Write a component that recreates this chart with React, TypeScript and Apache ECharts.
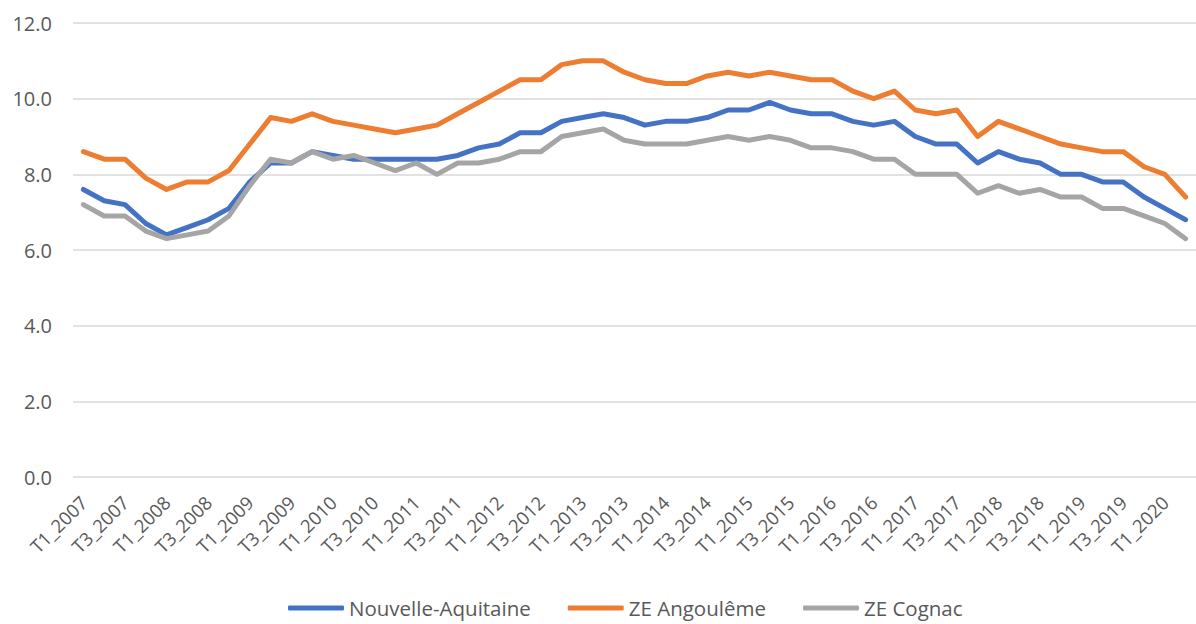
import React, { useEffect, useRef } from "react";
import * as echarts from "echarts";

const quarters: string[] = [];
for (let y = 2007; y <= 2020; y++) {
  for (let q = 1; q <= 4; q++) {
    if (y === 2020 && q > 2) break;
    quarters.push(`T${q}_${y}`);
  }
}

const nouvelleAquitaine = [
  7.6, 7.3, 7.2, 6.7, 6.4, 6.6, 6.8, 7.1, 7.8, 8.3, 8.3, 8.6, 8.5, 8.4, 8.4, 8.4,
  8.4, 8.4, 8.5, 8.7, 8.8, 9.1, 9.1, 9.4, 9.5, 9.6, 9.5, 9.3, 9.4, 9.4, 9.5, 9.7,
  9.7, 9.9, 9.7, 9.6, 9.6, 9.4, 9.3, 9.4, 9.0, 8.8, 8.8, 8.3, 8.6, 8.4, 8.3, 8.0,
  8.0, 7.8, 7.8, 7.4, 7.1, 6.8,
];
const zeAngouleme = [
  8.6, 8.4, 8.4, 7.9, 7.6, 7.8, 7.8, 8.1, 8.8, 9.5, 9.4, 9.6, 9.4, 9.3, 9.2, 9.1,
  9.2, 9.3, 9.6, 9.9, 10.2, 10.5, 10.5, 10.9, 11.0, 11.0, 10.7, 10.5, 10.4, 10.4, 10.6, 10.7,
  10.6, 10.7, 10.6, 10.5, 10.5, 10.2, 10.0, 10.2, 9.7, 9.6, 9.7, 9.0, 9.4, 9.2, 9.0, 8.8,
  8.7, 8.6, 8.6, 8.2, 8.0, 7.4,
];
const zeCognac = [
  7.2, 6.9, 6.9, 6.5, 6.3, 6.4, 6.5, 6.9, 7.7, 8.4, 8.3, 8.6, 8.4, 8.5, 8.3, 8.1,
  8.3, 8.0, 8.3, 8.3, 8.4, 8.6, 8.6, 9.0, 9.1, 9.2, 8.9, 8.8, 8.8, 8.8, 8.9, 9.0,
  8.9, 9.0, 8.9, 8.7, 8.7, 8.6, 8.4, 8.4, 8.0, 8.0, 8.0, 7.5, 7.7, 7.5, 7.6, 7.4,
  7.4, 7.1, 7.1, 6.9, 6.7, 6.3,
];

const seriesNames = ["Nouvelle-Aquitaine", "ZE Angoulême", "ZE Cognac"];
const seriesColors = ["#4472C4", "#ED7D31", "#A5A5A5"];
const yTicks = { min: 0, max: 12, interval: 2 };

const FONT = "'Open Sans', sans-serif";

export default function App() {
  const ref = useRef<HTMLDivElement>(null);
  useEffect(() => {
    if (!ref.current) return;
    const chart = echarts.init(ref.current, undefined, { renderer: "svg" });
    const data = [nouvelleAquitaine, zeAngouleme, zeCognac];
    chart.setOption({
      animation: false,
      backgroundColor: "#ffffff",
      textStyle: { fontFamily: FONT },
      grid: { left: 73, top: 23, right: -13, bottom: 147, containLabel: false },
      legend: {
        left: 283,
        top: 592,
        itemWidth: 56,
        itemHeight: 5,
        itemGap: 37,
        icon: "roundRect",
        textStyle: { fontFamily: FONT, fontSize: 20.5, color: "#595959", lineHeight: 22 },
        data: seriesNames,
      },
      xAxis: {
        type: "category",
        data: quarters,
        boundaryGap: true,
        axisLine: { show: false },
        axisTick: { show: false },
        axisLabel: {
          interval: 1,
          rotate: 45,
          margin: 22,
          fontFamily: FONT,
          fontSize: 18.5,
          color: "#595959",
        },
      },
      yAxis: {
        type: "value",
        min: yTicks.min,
        max: yTicks.max,
        interval: yTicks.interval,
        axisLine: { show: false },
        axisTick: { show: false },
        axisLabel: {
          margin: 21,
          fontFamily: FONT,
          fontSize: 20,
          color: "#595959",
          formatter: (v: number) => v.toFixed(1),
        },
        splitLine: { lineStyle: { color: "#D9D9D9", width: 1.5 } },
      },
      series: seriesNames.map((name, i) => ({
        name,
        type: "line",
        data: data[i],
        symbol: "none",
        color: seriesColors[i],
        lineStyle: { width: 5, color: seriesColors[i], join: "round", cap: "round" },
      })),
    });
    return () => chart.dispose();
  }, []);
  return (
    <div
      ref={ref}
      style={{ position: "fixed", left: 0, top: 0, width: 1196, height: 624, overflow: "hidden" }}
    />
  );
}
